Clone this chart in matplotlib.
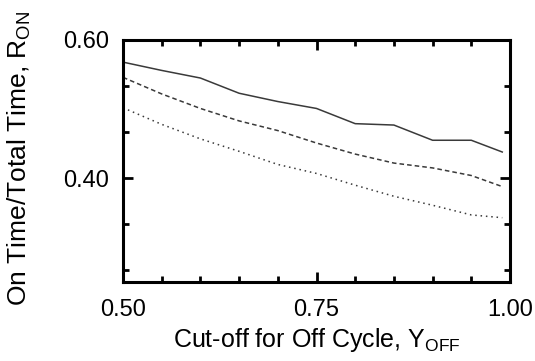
import matplotlib
matplotlib.use("Agg")
import matplotlib.pyplot as plt
from matplotlib.ticker import MultipleLocator, FixedLocator

plt.rcParams['font.family'] = ['Liberation Sans', 'DejaVu Sans']
plt.rcParams['mathtext.fontset'] = 'custom'
plt.rcParams['mathtext.rm'] = 'Liberation Sans'

x_cutoff = [0.50, 0.55, 0.60, 0.65, 0.70, 0.75, 0.80, 0.85, 0.90, 0.95, 0.99]
r_on_solid = [0.568, 0.556, 0.545, 0.523, 0.511, 0.501, 0.479, 0.477, 0.455, 0.455, 0.438]
r_on_dashed = [0.546, 0.522, 0.501, 0.483, 0.469, 0.451, 0.435, 0.422, 0.415, 0.404, 0.388]
r_on_dotted = [0.502, 0.478, 0.457, 0.439, 0.420, 0.407, 0.390, 0.374, 0.361, 0.347, 0.343]

x_ticks = [0.50, 0.75, 1.00]
x_ticklabels = ["0.50", "0.75", "1.00"]
y_ticks = [0.40, 0.60]
y_ticklabels = ["0.40", "0.60"]

fig = plt.figure(figsize=(5.35, 3.61), dpi=100)
ax = fig.add_axes([123/535, 1 - 282/361, (510-123)/535, (282-40)/361])

lc = '#3a3a3a'
ax.plot(x_cutoff, r_on_solid, color=lc, lw=1.1, ls='-')
ax.plot(x_cutoff, r_on_dashed, color=lc, lw=1.1, ls=(0, (3, 2)))
ax.plot(x_cutoff, r_on_dotted, color=lc, lw=1.1, ls=(0, (1, 2.5)))

ax.set_xlim(0.50, 1.00)
ax.set_ylim(0.25, 0.60)
ax.set_xticks(x_ticks)
ax.set_xticklabels(x_ticklabels)
ax.set_yticks(y_ticks)
ax.set_yticklabels(y_ticklabels)
ax.xaxis.set_minor_locator(MultipleLocator(0.05))
ax.yaxis.set_minor_locator(FixedLocator([0.60 - k * 0.2 / 3 for k in range(6)]))

for s in ax.spines.values():
    s.set_linewidth(2.2)
ax.tick_params(which='both', direction='in', top=True, right=True, width=2, labelsize=17)
ax.tick_params(axis='x', pad=12)
ax.tick_params(axis='y', pad=10)
ax.tick_params(which='major', length=7)
ax.tick_params(which='minor', length=4)

ax.set_xlabel(r'Cut-off for Off Cycle, Y$_{\mathregular{OFF}}$', fontsize=18, labelpad=4)
ax.set_ylabel(r'On Time/Total Time, R$_{\mathregular{ON}}$', fontsize=19, va='center')
ax.yaxis.set_label_coords((19 - 123) / 387, (282 - 158) / 242)

fig.savefig("out.png", dpi=100)
